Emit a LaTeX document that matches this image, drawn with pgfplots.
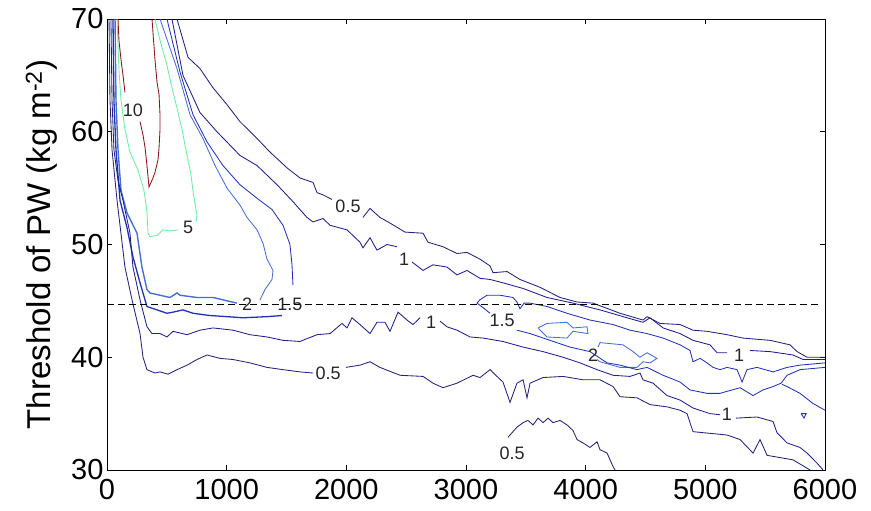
\documentclass[border=0pt]{standalone}
\usepackage{fontspec}
\setmainfont{Liberation Sans}
\usepackage{pgfplots}
\pgfplotsset{compat=1.18}
\definecolor{c05}{RGB}{35,35,120}
\definecolor{c1}{RGB}{30,30,140}
\definecolor{c15}{RGB}{35,50,180}
\definecolor{c2}{RGB}{70,110,215}
\definecolor{c5}{RGB}{110,235,165}
\definecolor{c10}{RGB}{140,20,20}
\begin{document}
\begin{tikzpicture}
\useasboundingbox (0,0) rectangle (871pt,511pt);
\begin{axis}[
 at={(107pt,41pt)}, anchor=south west,
 scale only axis, width=718pt, height=451pt,
 xmin=0,xmax=6000,ymin=30,ymax=70,
 xtick={0,1000,...,6000}, ytick={30,40,50,60,70},
 tick align=inside, major tick length=5pt,
 axis line style={line width=0.9pt},
 every tick/.style={black, line width=0.9pt},
 tick label style={font=\fontsize{29}{31}\selectfont},
 /pgf/number format/assume math mode=true,
 /pgf/number format/set thousands separator={},
 xticklabel style={yshift=-6pt},
 ylabel={Threshold of PW (kg m\textsuperscript{-2})},
 ylabel style={font=\fontsize{33}{36}\selectfont, at={(axis description cs:-0.091,0.5)}, anchor=center},
 every axis plot/.append style={line width=0.85pt},
 clip=true,
]
% ---- level 10
\addplot[c10] coordinates {(92,70) (100,68.1) (117,66.4) (134,65.0) (150,63.5)};
\addplot[c10] coordinates {(276,60.9) (301,59.7) (318,58.6) (334,57.0) (351,55.1) (384,55.9) (401,56.4) (426,57.5) (435,58.6) (443,60.2) (443,61.5) (435,63.3) (418,64.4) (401,66.4) (376,70)};
% ---- level 5
\addplot[c5] coordinates {(84,70) (100,65.5) (117,62.8) (150,60.2) (192,58.2) (259,56.6) (309,54.8) (334,52.9) (343,51.0) (359,50.7) (418,50.8) (468,51.3) (526,51.2) (593,51.3)};
\addplot[c5] coordinates {(744,52.0) (752,52.6) (719,54.7) (702,56.2) (669,57.9) (627,60.2) (585,62.1) (543,63.9) (501,65.9) (443,68.1) (401,70)};
% ---- level 2
\addplot[c2, line width=1.4pt] coordinates {(67,70) (75,62.8) (92,58.4) (117,54.8) (167,52.8) (251,51.0) (292,48.0) (334,46.0) (359,45.7) (443,45.5) (526,45.3) (585,45.7) (610,45.5) (752,45.3) (886,45.3) (1086,44.8)};
\addplot[c2] coordinates {(1279,45.1) (1320,46.0) (1379,46.9) (1387,47.7) (1337,48.7) (1304,50.1) (1254,51.3) (1170,52.4) (1111,53.5) (1003,55.0) (903,57.0) (802,59.4) (694,61.5) (585,65.6) (443,70)};
\addplot[c2] coordinates {(3602,42.6) (3677,43.0) (3844,43.1) (3894,42.6) (4011,42.7) (4020,42.1) (3894,42.3) (3844,41.7) (3677,41.8) (3602,42.6)};
\addplot[c2] coordinates {(4103,40.9) (4120,41.3) (4312,41.1) (4396,40.5) (4454,40.0) (4513,40.4) (4596,39.9) (4538,39.5) (4479,39.6) (4429,39.1) (4287,39.1) (4120,39.6) (4095,39.8)};
% ---- level 1.5
\addplot[c15] coordinates {(501,70) (610,65.3) (719,61.5) (836,59.1) (969,57.0) (1111,55.3) (1254,54.1) (1379,53.1) (1471,51.7) (1529,50.0) (1546,48.2) (1554,46.4)};
\addplot[c15, line width=1.3pt] coordinates {(50,70) (58,62.8) (75,58.4) (109,53.9) (167,51.5) (217,48.9) (276,46.6) (334,44.5) (418,44.2) (501,43.9) (552,44.0) (635,44.2) (719,43.9) (861,43.7) (1003,43.6) (1137,43.5) (1337,43.6) (1462,43.7)};
\addplot[c15] coordinates {(3201,43.9) (3142,44.4) (3092,44.8) (3117,45.1) (3176,45.5) (3284,45.5) (3393,45.3) (3426,44.9) (3451,44.3) (3485,44.8) (3535,44.8) (3677,44.5) (3844,43.9) (4036,43.3) (4229,42.9) (4371,42.4) (4513,42.1) (4647,41.7) (4789,41.1) (4872,40.6) (4897,39.6) (4956,39.9) (5014,39.5) (5065,39.1) (5123,38.9) (5182,39.1) (5265,38.9) (5307,37.8) (5348,38.9) (5432,39.1) (5566,38.7) (5683,39.1) (5791,39.3) (6000,39.5)};
\addplot[c15] coordinates {(3426,42.4) (3535,42.1) (3702,41.5) (3869,40.9) (4036,40.5) (4179,39.5) (4287,39.3) (4429,38.9) (4513,39.1) (4647,38.4) (4789,37.8) (4872,37.1) (5014,36.8) (5123,36.8) (5290,37.3) (5399,36.6) (5482,37.1) (5566,37.4) (5633,37.7) (5683,38.4) (5791,38.9) (6000,39.1)};
\addplot[c15] coordinates {(5641,37.6) (5683,37.4) (5791,36.8) (5900,35.9) (6000,35.3)};
\addplot[c15] coordinates {(5800,35.0) (5842,35.0) (5825,34.6) (5800,35.0)};
% ---- level 1
\addplot[c1] coordinates {(543,70) (635,65.0) (777,61.7) (919,60.0) (1111,57.9) (1254,57.0) (1421,55.3) (1554,53.8) (1671,52.4) (1722,52.0) (1805,52.3) (1864,51.7) (2006,51.3) (2114,50.2) (2139,49.7) (2198,50.6) (2256,49.5) (2340,50.0) (2423,49.8)};
\addplot[c1] coordinates {(2549,48.45) (2641,47.7) (2724,48.2) (2841,48.0) (2925,47.3) (3008,47.7) (3117,47.0) (3201,46.9) (3309,46.6) (3477,46.1) (3677,45.3) (3894,44.8) (4120,44.2) (4346,43.5) (4479,43.1) (4538,43.5) (4647,42.6) (4789,42.1) (4897,41.5) (5039,41.1) (5098,40.4) (5182,40.4)};
\addplot[c1] coordinates {(5373,40.6) (5541,40.5) (5733,40.2) (5817,39.8) (6000,39.8)};
\addplot[c1] coordinates {(33,70) (42,62.8) (58,58.4) (92,55.7) (134,53.9) (192,51.0) (217,48.0) (276,45.1) (334,42.7) (376,42.1) (443,42.1) (501,41.8) (552,42.3) (669,42.0) (777,42.4) (886,42.6) (1053,42.4) (1195,42.0) (1337,41.8) (1471,41.5) (1613,41.4) (1755,42.0) (1864,42.1) (1964,43.0) (2006,42.6) (2047,43.5) (2114,42.9) (2198,42.1) (2256,43.1) (2323,43.1) (2365,42.3) (2432,44.0) (2507,43.3) (2557,42.9) (2616,43.5)};
\addplot[c1] coordinates {(2783,43.2) (2841,42.7) (2925,42.4) (3034,41.8) (3142,41.7) (3309,41.4) (3477,40.9) (3644,40.5) (3811,40.0) (3953,39.5) (4095,38.9) (4229,38.4) (4371,38.3) (4454,38.6) (4479,38.0) (4563,37.7) (4680,36.6) (4789,36.2) (4897,35.5) (5039,35.0) (5123,34.9)};
\addplot[c1] coordinates {(5257,34.6) (5432,34.7) (5566,34.3) (5599,33.3) (5683,32.4) (5791,32.0) (5850,31.5) (5934,30.6) (5984,30.0)};
% ---- level 0.5
\addplot[c05] coordinates {(585,70) (677,66.6) (777,65.6) (886,63.9) (1003,62.4) (1111,60.9) (1254,59.4) (1362,58.2) (1504,56.8) (1613,55.9) (1722,55.5) (1755,54.6) (1805,54.4) (1880,54.0)};
\addplot[c05] coordinates {(2139,52.4) (2198,53.2) (2281,52.4) (2365,51.9) (2490,51.1) (2641,51.0) (2683,50.2) (2808,49.8) (2925,49.2) (3008,49.3) (3117,48.7) (3201,48.1) (3226,47.5) (3343,47.6) (3451,46.9) (3619,46.2) (3786,45.3) (3928,44.9) (4062,44.8) (4287,43.9) (4479,43.3) (4513,43.6) (4621,43.0) (4789,42.9) (4897,42.4) (5014,42.3) (5182,42.0) (5315,41.7) (5541,41.5) (5708,41.1) (5767,40.5) (5850,40.0) (6000,40.0)};
\addplot[c05] coordinates {(17,70) (25,62.8) (42,58.4) (84,53.9) (150,48.0) (209,45.1) (276,42.1) (301,40.0) (334,38.9) (401,38.6) (443,38.7) (510,38.5) (585,38.9) (669,39.3) (752,39.8) (836,40.2) (944,39.9) (1053,39.8) (1195,39.5) (1337,39.1) (1471,38.9) (1613,38.7) (1722,38.6)};
\addplot[c05] coordinates {(1997,39.1) (2114,39.3) (2198,39.6) (2281,39.1) (2449,38.4) (2641,38.3) (2724,37.7) (2808,37.3) (2925,37.7) (3059,38.4) (3117,38.2) (3201,38.9) (3259,38.3) (3309,37.8) (3368,36.0) (3426,37.7) (3477,38.0) (3510,36.4) (3535,37.7) (3644,38.2) (3811,38.3) (3978,38.0) (4120,38.0) (4229,37.4) (4287,36.5) (4429,36.4) (4538,35.8) (4680,35.6) (4789,35.3) (4847,35.0) (4897,33.4) (5182,33.1) (5290,32.7) (5399,31.5) (5457,32.7) (5516,31.3) (5733,30.9) (5875,30.0)};
\addplot[c05] coordinates {(3351,32.9) (3426,33.8) (3477,34.2) (3518,34.4) (3560,34.0) (3602,34.6) (3644,34.2) (3686,34.6) (3727,34.2) (3786,34.4) (3844,34.0) (3894,33.5) (3928,32.7) (3978,32.4) (4036,32.0) (4095,32.5) (4120,31.8) (4179,31.5) (4229,30.3) (4246,30.0)};
% ---- dashed threshold
\addplot[black, line width=0.9pt, dash pattern=on 7pt off 4pt] coordinates {(0,44.72) (5940,44.72)};
% ---- contour labels
\begin{scope}[every node/.style={font=\fontsize{18}{18}\selectfont, text=black!85, inner sep=0pt}]
\node at (axis cs:217,61.9) {10};
\node at (axis cs:677,51.5) {5};
\node at (axis cs:1170,44.7) {2};
\node at (axis cs:1529,44.7) {1.5};
\node at (axis cs:2014,53.4) {0.5};
\node at (axis cs:2482,48.7) {1};
\node at (axis cs:2708,43.1) {1};
\node at (axis cs:1847,38.6) {0.5};
\node at (axis cs:3301,43.3) {1.5};
\node at (axis cs:4062,40.2) {2};
\node at (axis cs:5282,40.2) {1};
\node at (axis cs:5181,34.9) {1};
\node at (axis cs:3385,31.5) {0.5};
\end{scope}
\end{axis}
\end{tikzpicture}
\end{document}
